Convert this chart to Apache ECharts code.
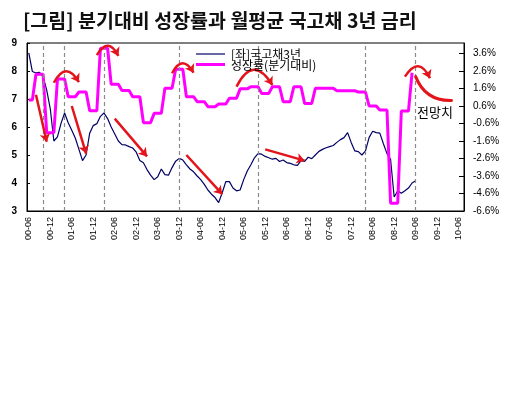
<!DOCTYPE html>
<html><head><meta charset="utf-8">
<script src="https://cdn.jsdelivr.net/npm/echarts@6/dist/echarts.min.js"></script>
<style>html,body{margin:0;padding:0;background:#fff}#c{width:518px;height:394px}</style>
</head><body><div id="c"></div>
<script>
// Monthly categories 2000-06 .. 2010-07 (YY-MM)
const categories = [];
for (let i = 0; i < 122; i++) {
  const y = 2000 + Math.floor((5 + i) / 12), mo = (5 + i) % 12 + 1;
  categories.push(String(y % 100).padStart(2, '0') + '-' + String(mo).padStart(2, '0'));
}

// [좌] 국고채 3년 금리 (%), monthly from 2000-06 to 2009-06
const bondYield3y = [
  8.65, 7.98, 7.93, 7.95, 7.80, 7.32, 6.65, 5.50, 5.65, 6.13,
  6.50, 6.15, 5.88, 5.60, 5.20, 4.80, 5.00, 5.78, 6.05, 6.12,
  6.38, 6.50, 6.30, 6.00, 5.75, 5.50, 5.37, 5.36, 5.30, 5.25,
  5.10, 4.80, 4.72, 4.48, 4.28, 4.12, 4.22, 4.50, 4.30, 4.28,
  4.55, 4.78, 4.88, 4.82, 4.65, 4.50, 4.40, 4.25, 4.12, 3.95,
  3.75, 3.60, 3.48, 3.30, 3.65, 4.05, 4.05, 3.82, 3.72, 3.75,
  4.12, 4.43, 4.65, 4.90, 5.05, 5.03, 4.95, 4.90, 4.85, 4.88,
  4.77, 4.82, 4.73, 4.70, 4.65, 4.63, 4.80, 4.77, 4.92, 4.87,
  5.00, 5.13, 5.20, 5.26, 5.30, 5.34, 5.45, 5.55, 5.62, 5.80,
  5.45, 5.15, 5.12, 5.00, 5.15, 5.62, 5.85, 5.80, 5.78, 5.40,
  5.05, 4.85, 3.50, 3.72, 3.63, 3.72, 3.82, 4.00, 4.08
];

// 성장률(분기대비), read in right-axis tick units (0 = bottom tick "-6.6%", 9 = "3.6%")
const growthQoQ = [
  6.34, 6.34, 7.81, 7.81, 7.81, 4.47, 4.47, 4.47, 7.54, 7.54,
  7.54, 6.53, 6.53, 6.53, 6.80, 6.80, 6.80, 5.73, 5.73, 5.73,
  9.30, 9.30, 9.30, 7.24, 7.24, 7.24, 6.88, 6.88, 6.88, 6.53,
  6.53, 6.53, 5.05, 5.05, 5.05, 5.58, 5.58, 5.58, 7.01, 7.01,
  7.01, 8.10, 8.10, 8.10, 6.53, 6.53, 6.53, 6.25, 6.25, 6.25,
  5.96, 5.96, 5.96, 6.11, 6.11, 6.11, 6.44, 6.44, 6.44, 6.98,
  6.98, 6.98, 7.10, 7.10, 7.10, 6.72, 6.72, 6.72, 7.10, 7.10,
  7.10, 6.25, 6.25, 6.25, 7.10, 7.10, 7.10, 6.15, 6.15, 6.15,
  7.01, 7.01, 7.01, 7.01, 7.01, 7.01, 6.87, 6.87, 6.87, 6.87,
  6.87, 6.87, 6.80, 6.80, 6.80, 6.00, 6.00, 6.00, 5.77, 5.77,
  5.77, 0.44, 0.44, 0.44, 5.71, 5.71, 5.71, 7.90
];

const leftTicks = { min: 3, max: 9, interval: 1 };
const rightTickLabels = ['-6.6%', '-4.6%', '-3.6%', '-2.6%', '-1.6%', '-0.6%', '0.6%', '1.6%', '2.6%', '3.6%'];

// Vertical dashed reference months
const turningPoints = ['00-10', '01-04', '02-03', '03-12', '05-10', '08-04', '09-06'];

// Red annotation arrows: [month index, left-axis value]
const straightArrows = [
  [[2, 7.15], [5, 5.47]],
  [[12, 6.75], [16, 5.05]],
  [[24, 6.30], [33, 4.95]],
  [[44, 5.00], [54, 3.60]],
  [[66, 5.20], [77, 4.80]]
];
const curvedArrows = [
  [[7, 7.58], [14, 7.60]],
  [[19, 8.57], [25, 8.54]],
  [[40, 7.92], [46, 7.94]],
  [[58, 7.44], [68, 7.50]],
  [[105, 7.80], [112, 7.74]]
];
const forecastCurve = [[108, 7.80], [118, 6.95]];

const seriesNames = ['[좌]국고채3년', '성장률(분기대비)'];
const NAVY = '#000066', PINK = '#ff00ff';
const KR = '"Noto Sans CJK KR", sans-serif';
const RED = '#e3141b';

const chart = echarts.init(document.getElementById('c'), null, { renderer: 'canvas' });
chart.setOption({
  animation: false,
  backgroundColor: '#fff',
  title: {
    text: '[그림] 분기대비 성장률과 월평균 국고채 3년 금리',
    left: 18, top: 6,
    textStyle: { fontFamily: KR, fontSize: 19.5, fontWeight: 'bold', color: '#111' }
  },
  grid: { left: 27, right: 54, top: 43, bottom: 183, show: true, borderColor: '#000', borderWidth: 1 },
  xAxis: {
    type: 'category', data: categories, boundaryGap: true,
    axisLine: { lineStyle: { color: '#000', width: 1 } },
    axisTick: { inside: true, length: 4, interval: 5, alignWithLabel: true, lineStyle: { color: '#000' } },
    axisLabel: { interval: 5, rotate: 90, margin: 6, fontFamily: 'Liberation Sans', fontSize: 9, color: '#000' }
  },
  yAxis: [
    {
      type: 'value', min: leftTicks.min, max: leftTicks.max, interval: leftTicks.interval,
      axisLine: { show: true, lineStyle: { color: '#000' } },
      axisTick: { show: true, inside: true, length: 3, lineStyle: { color: '#000' } },
      splitLine: { show: false },
      axisLabel: { margin: 10, fontFamily: 'Liberation Sans', fontSize: 10, fontWeight: 'bold', color: '#000' }
    },
    {
      type: 'value', position: 'right', min: 0, max: 9.6, interval: 1,
      axisLine: { show: true, lineStyle: { color: '#000' } },
      axisTick: { show: true, inside: true, length: 5, lineStyle: { color: '#000' } },
      splitLine: { show: false },
      axisLabel: {
        margin: 9, fontFamily: 'Liberation Sans', fontSize: 10, color: '#000', showMaxLabel: false,
        formatter: v => (Math.abs(v - Math.round(v)) < 1e-6 && rightTickLabels[Math.round(v)]) || ''
      }
    }
  ],
  series: [
    {
      name: seriesNames[0], type: 'line', yAxisIndex: 0, data: bondYield3y,
      symbol: 'none', z: 3,
      lineStyle: { color: NAVY, width: 1.2 }, itemStyle: { color: NAVY },
      markLine: {
        silent: true, symbol: ['none', 'none'], label: { show: false },
        lineStyle: { type: [4, 3], color: '#8a8a8a', width: 1.2 },
        data: turningPoints.map(c => ({ xAxis: c }))
      }
    },
    {
      name: seriesNames[1], type: 'line', yAxisIndex: 1, data: growthQoQ,
      symbol: 'none', z: 4,
      lineStyle: { color: PINK, width: 3 }, itemStyle: { color: PINK }
    },
    {
      type: 'lines', coordinateSystem: 'cartesian2d', xAxisIndex: 0, yAxisIndex: 0, z: 6,
      symbol: ['none', 'arrow'], symbolSize: 8, silent: true,
      lineStyle: { color: RED, width: 2.5, opacity: 1, curveness: 0 },
      data: straightArrows.map(c => ({ coords: c }))
    },
    {
      type: 'lines', coordinateSystem: 'cartesian2d', xAxisIndex: 0, yAxisIndex: 0, z: 6,
      symbol: ['none', 'arrow'], symbolSize: 8, silent: true,
      lineStyle: { color: RED, width: 2.5, opacity: 1, curveness: 0.9 },
      data: curvedArrows.map(c => ({ coords: c }))
    },
    {
      type: 'lines', coordinateSystem: 'cartesian2d', xAxisIndex: 0, yAxisIndex: 0, z: 6,
      symbol: ['none', 'none'], silent: true,
      lineStyle: { color: RED, width: 3, opacity: 1, curveness: -0.35, cap: 'round' },
      data: [{ coords: forecastCurve }]
    }
  ],
  graphic: [
    { type: 'line', z: 10, shape: { x1: 196, y1: 54, x2: 225, y2: 54 }, style: { stroke: NAVY, lineWidth: 1.2 } },
    { type: 'text', z: 10, x: 231, y: 54, style: { text: seriesNames[0], font: '12px "Noto Sans CJK KR"', fill: '#000', verticalAlign: 'middle' } },
    { type: 'line', z: 10, shape: { x1: 196, y1: 64.5, x2: 225, y2: 64.5 }, style: { stroke: PINK, lineWidth: 3 } },
    { type: 'text', z: 10, x: 231, y: 65, style: { text: seriesNames[1], font: '12px "Noto Sans CJK KR"', fill: '#000', verticalAlign: 'middle' } },
    { type: 'text', z: 10, x: 417, y: 112, style: { text: '전망치', font: '13px "Noto Sans CJK KR"', fill: '#000', verticalAlign: 'middle' } }
  ]
});
</script></body></html>
